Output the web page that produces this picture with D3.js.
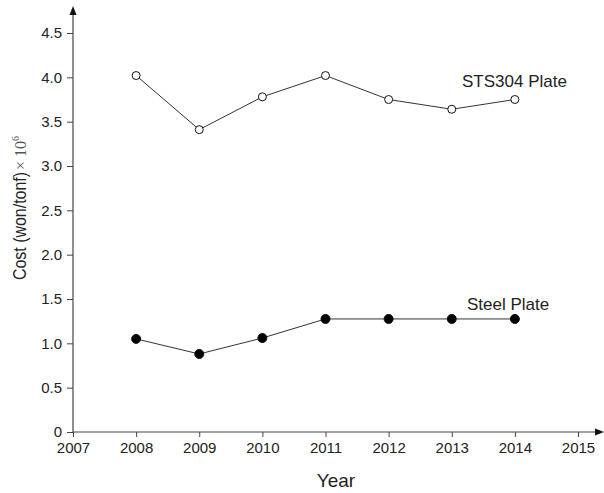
<!DOCTYPE html>
<html>
<head>
<meta charset="utf-8">
<script src="https://cdn.jsdelivr.net/npm/d3@7"></script>
<style>
  body { margin: 0; background: #fff; }
  text { font-family: Arial, "Liberation Sans", sans-serif; fill: #222; }
</style>
</head>
<body>
<svg id="chart" width="604" height="493"></svg>
<script>
// data
const years = [2008, 2009, 2010, 2011, 2012, 2013, 2014];
const stsValues = [4.02, 3.41, 3.78, 4.02, 3.75, 3.64, 3.75];
const steelValues = [1.05, 0.88, 1.06, 1.275, 1.275, 1.275, 1.275];
const xTicks = [2007, 2008, 2009, 2010, 2011, 2012, 2013, 2014, 2015];
const yTicks = [0, 0.5, 1.0, 1.5, 2.0, 2.5, 3.0, 3.5, 4.0, 4.5];

const svg = d3.select("#chart");

// plot area
const left = 73, bottom = 432;

const x = d3.scaleLinear().domain([2007, 2015]).range([left, 578]);
const y = d3.scaleLinear().domain([0, 4.5]).range([bottom, 33]);

const axisColor = "#444";

// x axis
const gx = svg.append("g")
    .attr("transform", `translate(0,${bottom})`)
    .call(d3.axisBottom(x).tickValues(xTicks).tickFormat(d3.format("d")).tickSize(5).tickPadding(5));
gx.select(".domain").remove();
gx.selectAll("line").attr("stroke", axisColor);
gx.selectAll("text").style("font-size", "15px").attr("fill", "#222");

// y axis
const gy = svg.append("g")
    .attr("transform", `translate(${left},0)`)
    .call(d3.axisLeft(y).tickValues(yTicks)
        .tickFormat(d => d === 0 ? "0" : d3.format(".1f")(d))
        .tickSize(6).tickPadding(5));
gy.select(".domain").remove();
gy.selectAll("line").attr("stroke", axisColor);
gy.selectAll("text").style("font-size", "15px").attr("fill", "#222");

// axis lines with arrow heads
svg.append("line")
    .attr("x1", left).attr("y1", bottom).attr("x2", 597).attr("y2", bottom)
    .attr("stroke", axisColor).attr("stroke-width", 1.2);
svg.append("path")
    .attr("d", `M604,${bottom} L595,${bottom - 3.5} L595,${bottom + 3.5} Z`)
    .attr("fill", "#111");
svg.append("line")
    .attr("x1", left).attr("y1", bottom).attr("x2", left).attr("y2", 14)
    .attr("stroke", axisColor).attr("stroke-width", 1.2);
svg.append("path")
    .attr("d", `M${left},6 L${left - 3.5},15 L${left + 3.5},15 Z`)
    .attr("fill", "#111");

// axis titles
svg.append("text")
    .attr("x", 336).attr("y", 487)
    .attr("text-anchor", "middle")
    .style("font-size", "19px")
    .text("Year");

const yl = svg.append("text")
    .attr("transform", "translate(26,280) rotate(-90)")
    .style("font-size", "18px");
yl.append("tspan")
    .attr("textLength", 108).attr("lengthAdjust", "spacingAndGlyphs")
    .text("Cost (won/tonf)");
yl.append("tspan").attr("dx", 2).style("font-family", "'Liberation Serif', serif").style("font-size", "16px").attr("fill", "#555").text("\u00d7 10");
yl.append("tspan").attr("dy", -7).style("font-family", "'Liberation Serif', serif").style("font-size", "10px").attr("fill", "#555").text("6");

// series
const line = d3.line().x((d, i) => x(years[i])).y(d => y(d));

function drawSeries(values, filled, r) {
    svg.append("path")
        .datum(values)
        .attr("d", line)
        .attr("fill", "none")
        .attr("stroke", "#333")
        .attr("stroke-width", 1);
    svg.append("g").selectAll("circle")
        .data(values)
        .enter().append("circle")
        .attr("cx", (d, i) => x(years[i]))
        .attr("cy", d => y(d))
        .attr("r", r)
        .attr("fill", filled ? "#000" : "#fff")
        .attr("stroke", "#111")
        .attr("stroke-width", 1);
}

drawSeries(stsValues, false, 4);
drawSeries(steelValues, true, 4.5);

// series labels
svg.append("text")
    .attr("x", 462).attr("y", 87)
    .style("font-size", "17px")
    .text("STS304 Plate");
svg.append("text")
    .attr("x", 467).attr("y", 310)
    .style("font-size", "17px")
    .text("Steel Plate");
</script>
</body>
</html>
